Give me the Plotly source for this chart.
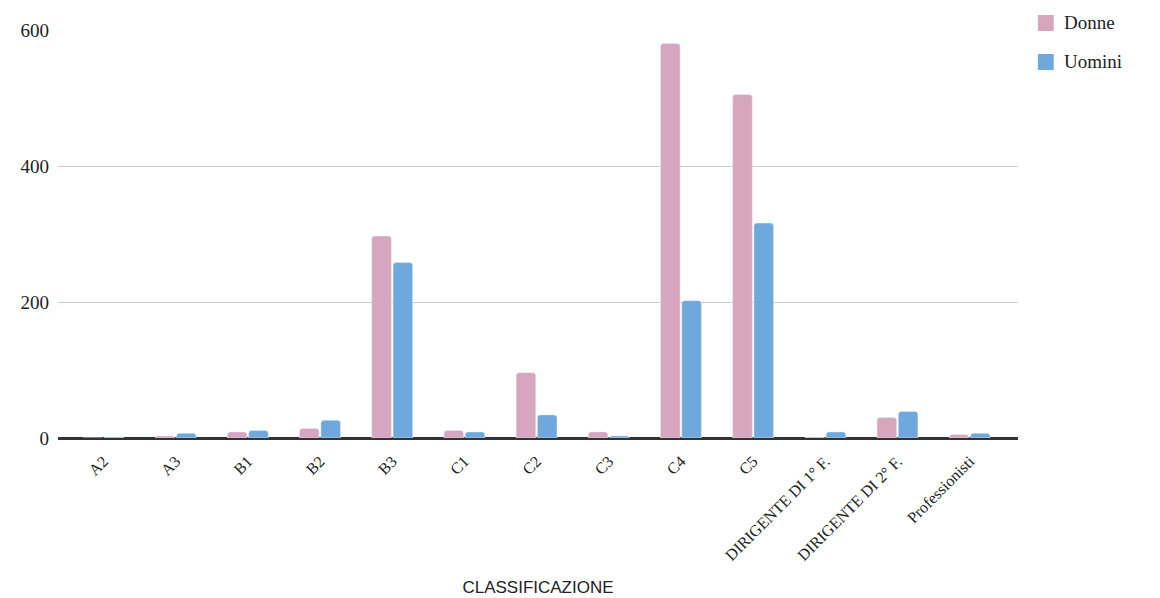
import plotly.graph_objects as go

categories = ["A2", "A3", "B1", "B2", "B3", "C1", "C2", "C3", "C4", "C5",
              "DIRIGENTE DI 1° F.", "DIRIGENTE DI 2° F.", "Professionisti"]
donne = [0, 3, 9, 14, 297, 11, 96, 9, 580, 505, 1, 30, 5]
uomini = [1, 7, 11, 26, 258, 9, 34, 3, 202, 316, 9, 39, 7]
y_ticks = [0, 200, 400, 600]
series_names = ["Donne", "Uomini"]
colors = ["#D5A6BD", "#6FA8DC"]

fig = go.Figure()
for name, vals, col in zip(series_names, [donne, uomini], colors):
    fig.add_trace(go.Bar(name=name, x=categories, y=vals, marker_color=col,
                         showlegend=False))

# legend drawn in the right margin (paper coordinates)
row_step = 0.0956
for i, (name, col) in enumerate(zip(series_names, colors)):
    yc = 1.0172 - i * row_step
    fig.add_shape(type="rect", xref="paper", yref="paper",
                  x0=1.0207, x1=1.0372, y0=yc - 0.0196, y1=yc + 0.0196,
                  fillcolor=col, line=dict(width=0))
    fig.add_annotation(xref="paper", yref="paper", x=1.0455, y=yc,
                       xanchor="left", yanchor="middle", showarrow=False,
                       text=name,
                       font=dict(family="Liberation Serif", size=19, color="#222222"))

fig.update_layout(
    width=1160, height=598,
    margin=dict(l=42, r=150, t=13, b=167),
    plot_bgcolor="white", paper_bgcolor="white",
    barmode="group", bargap=0.41, bargroupgap=0.08,
    barcornerradius=3,
    showlegend=False,
    font=dict(family="Liberation Serif", color="#222222", size=15),
    xaxis=dict(
        range=[-0.63, 12.67],
        tickangle=-45, tickfont=dict(family="Liberation Serif", size=16),
        showline=True, linecolor="#333333", linewidth=1.5,
        ticklabelstandoff=6,
        title=dict(text="CLASSIFICAZIONE", standoff=18,
                   font=dict(family="Liberation Sans", size=17, color="#222222")),
        ticks="",
    ),
    yaxis=dict(
        range=[0, 600], tickvals=y_ticks,
        gridcolor="#CCCCCC", gridwidth=1, zeroline=True,
        zerolinecolor="#333333", zerolinewidth=1.5,
        tickfont=dict(family="Liberation Serif", size=19),
        ticklabelstandoff=8,
        ticks="", ticklen=0,
    ),
)
fig.write_html("out.html")
